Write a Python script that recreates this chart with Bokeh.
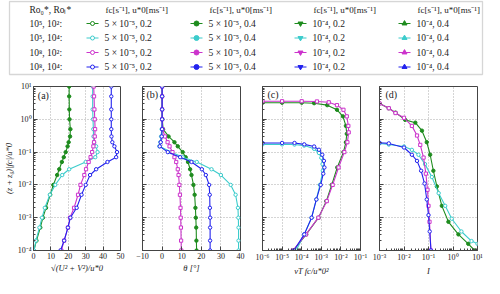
from bokeh.plotting import figure
from bokeh.layouts import column, row
from bokeh.models import (Range1d, FixedTicker, CustomJSTickFormatter, Label, BoxAnnotation)
from bokeh.embed import file_html
from bokeh.resources import INLINE
from bokeh.core.properties import value

SERIF = "Liberation Serif"

# ---------------- data ----------------
series_names = ["green", "cyan", "magenta", "blue"]
series_colors = ["#1e8c1e", "#3ccccc", "#cc33cc", "#2222ee"]

row_labels = ["10\u2075, 10\u00b2:", "10\u2075, 10\u2074:", "10\u2078, 10\u00b2:", "10\u2078, 10\u2074:"]
col_header = "fc[s\u207b\u00b9], u*0[ms\u207b\u00b9]"
col_labels = ["5 \u00d7 10\u207b\u2075, 0.2", "5 \u00d7 10\u207b\u2075, 0.4", "10\u207b\u2074, 0.2", "10\u207b\u2074, 0.4"]
row_header = "Ro\u2080*, Ro\u2097*"

# heights (z+z0)|fc|/u*0 shared by panels (a) and (b)
z_ab = [10, 5, 2, 1, 0.5, 0.3, 0.2, 0.15, 0.1, 0.07, 0.05, 0.03, 0.02, 0.01,
        0.005, 0.002, 0.001, 0.0005, 0.0002, 0.0001]

# (a) sqrt(U^2+V^2)/u*0
speed_green = [20.5, 20.5, 20.6, 20.7, 21.2, 21.0, 20.2, 19.6, 18.5, 17.4, 16.3, 14.8, 13.6, 11.4,
               9.6, 7.2, 5.4, 3.9, 1.7, 0.2]
speed_cyan = [34.0, 34.0, 34.0, 34.2, 34.4, 34.5, 34.8, 36.0, 36.8, 35.5, 30.0, 20.5, 16.5, 12.5,
              9.4, 6.5, 4.9, 3.4, 1.4, 0.3]
speed_magenta = [34.6, 34.8, 35.0, 35.2, 35.4, 35.2, 34.8, 34.4, 33.7, 32.8, 31.7, 30.2, 29.2, 27.0,
                 25.6, 23.3, 21.0, 19.8, 17.6, 16.0]
speed_blue = [44.7, 44.7, 44.7, 44.7, 44.7, 44.8, 45.3, 46.5, 48.0, 47.5, 42.5, 36.0, 32.5, 30.0,
              27.6, 24.8, 21.2, 19.8, 17.6, 15.5]

# (b) theta [deg]
theta_green = [0.0, 0.0, 0.0, 0.1, 0.5, 3.3, 6.3, 8.0, 10.5, 12.0, 13.2, 14.3, 15.0, 16.0,
               16.6, 17.0, 17.2, 17.4, 17.5, 17.6]
theta_cyan = [0.0, 0.0, 0.0, 0.0, -0.2, -0.5, -0.9, -1.4, 4.6, 10.5, 17.7, 25.2, 30.0, 35.0,
              37.5, 38.7, 38.9, 39.0, 39.0, 39.0]
theta_magenta = [0.0, 0.0, 0.0, 0.0, 0.2, 1.5, 2.8, 3.8, 5.3, 6.3, 7.2, 8.0, 8.4, 8.8,
                 9.1, 9.4, 9.5, 9.6, 9.7, 9.8]
theta_blue = [0.0, 0.0, 0.0, 0.0, 0.0, -0.2, -0.7, -1.2, 2.9, 9.2, 15.0, 20.3, 22.3, 24.0,
              24.3, 24.4, 24.5, 24.5, 24.5, 24.5]

# (c) nu_T fc / u*0^2
nu_green = [1e-6, 1e-5, 1e-4, 4.3e-4, 2e-3, 6.3e-3, 0.0127, 0.018, 0.02, 0.018, 0.0135, 0.0065,
            0.0034, 0.0018, 7.2e-4, 1.7e-4, 3.8e-5]
z_nu_green = [3.2, 3.2, 3.2, 3.1, 2.7, 1.95, 1.23, 0.63, 0.36, 0.2, 0.1, 0.034, 0.01, 0.0032,
              0.001, 0.00031, 0.0001]
nu_cyan = [1e-6, 1e-5, 4.3e-5, 1.35e-4, 4.3e-4, 7.6e-4, 1e-3, 1.16e-3, 1.2e-3, 8.5e-4, 5.6e-4,
           3.2e-4, 1.35e-4, 5.2e-5]
z_nu_cyan = [0.172, 0.172, 0.17, 0.158, 0.126, 0.094, 0.067, 0.043, 0.027, 0.01, 0.0036, 0.001,
             0.00031, 0.0001]
nu_magenta = [1e-6, 1e-5, 1e-4, 6e-4, 2.4e-3, 6.3e-3, 0.0135, 0.02, 0.024, 0.025, 0.0214, 0.015,
              0.0076, 0.0038, 0.0019, 7.1e-4, 1.66e-4, 3.5e-5]
z_nu_magenta = [3.55, 3.55, 3.55, 3.5, 3.3, 2.7, 1.95, 1.23, 0.63, 0.4, 0.2, 0.1, 0.034, 0.01,
                0.0032, 0.001, 0.00031, 0.0001]
nu_blue = [1e-6, 1e-5, 4.3e-5, 1.35e-4, 4.3e-4, 7.6e-4, 1.12e-3, 1.36e-3, 1.44e-3, 1.26e-3,
           9.3e-4, 5.6e-4, 3.2e-4, 1.35e-4, 4.0e-5]
z_nu_blue = [0.19, 0.19, 0.19, 0.172, 0.148, 0.118, 0.083, 0.054, 0.034, 0.022, 0.01, 0.0036,
             0.001, 0.00031, 0.0001]

# (d) I
i_green = [1e-3, 2.4e-3, 4.5e-3, 0.0112, 0.029, 0.054, 0.085, 0.117, 0.158, 0.22, 0.35, 0.65,
           1.66, 4.2, 7.7]
z_i_green = [3.04, 2.17, 1.6, 0.96, 0.79, 0.45, 0.2, 0.083, 0.027, 0.009, 0.0023, 7.5e-4,
             3.1e-4, 1.6e-4, 1e-4]
i_cyan = [1e-3, 2.4e-3, 0.01, 0.021, 0.039, 0.072, 0.137, 0.26, 0.48, 0.89, 2.2, 5.7, 10.0]
z_i_cyan = [0.184, 0.17, 0.148, 0.117, 0.083, 0.043, 0.0174, 0.0056, 0.0023, 9.3e-4, 3.8e-4,
            1.94e-4, 1.6e-4]
i_magenta = [1e-3, 2.4e-3, 4.5e-3, 0.01, 0.021, 0.034, 0.046, 0.063, 0.078, 0.091, 0.1, 0.11,
             0.126]
z_i_magenta = [3.04, 2.17, 1.55, 1.11, 0.63, 0.32, 0.166, 0.068, 0.022, 0.0071, 0.0023, 7.5e-4,
               1e-4]
i_blue = [1e-3, 2.4e-3, 0.01, 0.021, 0.034, 0.05, 0.069, 0.085, 0.1, 0.112, 0.126]
z_i_blue = [0.193, 0.184, 0.138, 0.083, 0.054, 0.027, 0.011, 0.0036, 0.0012, 3.8e-4, 1e-4]

# ---------------- styling helpers ----------------
AX = "#444444"
FS_TICK = "8px"
FS_LAB = "8.5px"

sup_js = """
const sup = {"-":"\u207b","0":"\u2070","1":"\u00b9","2":"\u00b2","3":"\u00b3","4":"\u2074",
             "5":"\u2075","6":"\u2076","7":"\u2077","8":"\u2078","9":"\u2079"};
const e = Math.round(Math.log10(tick));
return "10" + String(e).split("").map(c => sup[c]).join("");
"""
minus_js = 'return tick < 0 ? "\\u2212" + Math.abs(tick) : String(tick);'
blank_js = 'return "";'


def log_ticker(lo, hi):
    majors = [10.0 ** e for e in range(lo, hi + 1)]
    minors = [k * 10.0 ** e for e in range(lo, hi) for k in range(2, 10)]
    return FixedTicker(ticks=majors, minor_ticks=minors)


def style_axis(ax, show_labels, is_log):
    ax.axis_line_color = AX
    ax.axis_line_width = 1
    ax.major_tick_in = 4
    ax.major_tick_out = 0
    ax.major_tick_line_color = AX
    if is_log:
        ax.minor_tick_in = 2
        ax.minor_tick_out = 0
        ax.minor_tick_line_color = AX
    else:
        ax.minor_tick_line_color = None
    ax.major_label_text_font = SERIF
    ax.major_label_text_font_size = FS_TICK
    ax.major_label_text_color = "#222222"
    ax.major_label_standoff = 2
    ax.axis_label_text_font = SERIF
    ax.axis_label_text_font_size = FS_LAB
    ax.axis_label_text_font_style = "italic"
    ax.axis_label_text_color = "#222222"
    ax.axis_label_standoff = 1
    if not show_labels:
        ax.formatter = CustomJSTickFormatter(code=blank_js)
        ax.major_label_standoff = 0


def make_panel(xtype, xr, xticker, xformatter, width, bl, br, show_ylab, xlabel, tag, tag_x, tag_y):
    p = figure(width=width, height=202, x_axis_type=xtype, y_axis_type="log",
               x_range=xr, y_range=Range1d(1e-4, 10),
               output_backend="svg", toolbar_location=None,
               min_border_left=bl, min_border_right=br, min_border_top=10, min_border_bottom=23)
    p.outline_line_color = AX
    p.outline_line_width = 1
    p.background_fill_color = "white"
    p.border_fill_color = "white"
    xa = p.xaxis[0]
    xa.ticker = xticker
    xa.formatter = xformatter
    style_axis(xa, True, xtype == "log")
    xa.axis_label = xlabel
    ya = p.yaxis[0]
    ya.ticker = log_ticker(-4, 1)
    ya.formatter = CustomJSTickFormatter(code=sup_js)
    style_axis(ya, show_ylab, True)
    if show_ylab:
        ya.axis_label = "(z + z\u2080)|fc|/u*0"
    for g in (p.xgrid[0], p.ygrid[0]):
        g.grid_line_color = "#aaaaaa"
        g.grid_line_dash = "1 2"
        g.grid_line_width = 1
    p.xgrid[0].ticker = xticker
    p.ygrid[0].ticker = log_ticker(-4, 1)
    p.add_layout(Label(x=tag_x, y=tag_y, text=tag, text_font=SERIF, text_font_size="10px",
                       text_color="#222222", text_baseline="bottom"))
    return p


def draw(p, xs, ys, color, marker):
    p.line(xs, ys, line_color=color, line_width=1.1)
    if marker == "filled":
        p.scatter(xs, ys, marker="circle", size=3.4, line_color=color, fill_color=color)
    elif marker == "square":
        p.scatter(xs, ys, marker="square", size=3.2, line_color=color, fill_color="white", line_width=1)
    else:
        p.scatter(xs, ys, marker="circle", size=3.4, line_color=color, fill_color="white", line_width=1)


marker_kinds = ["filled", "open", "square", "open"]

# ---------------- panels ----------------
lin_a = FixedTicker(ticks=[0, 10, 20, 30, 40, 50])
pa = make_panel("linear", Range1d(0, 50), lin_a, CustomJSTickFormatter(code=minus_js),
                131, 25, 11, True, "\u221a(U\u00b2 + V\u00b2)/u*0", "(a)", 2.5, 3.6)
lin_b = FixedTicker(ticks=[-10, 0, 10, 20, 30, 40])
pb = make_panel("linear", Range1d(-10, 40), lin_b, CustomJSTickFormatter(code=minus_js),
                120, 11, 11, False, "\u03b8 [\u00b0]", "(b)", -8.0, 4.0)
pc = make_panel("log", Range1d(1e-6, 1e-1), log_ticker(-6, -1), CustomJSTickFormatter(code=sup_js),
                120, 11, 11, False, "\u03bdT fc/u*0\u00b2", "(c)", 1.8e-6, 3.9)
pd = make_panel("log", Range1d(1e-3, 10), log_ticker(-3, 1), CustomJSTickFormatter(code=sup_js),
                113, 8, 7, False, "I", "(d)", 1.75e-3, 3.9)

speeds = [speed_green, speed_cyan, speed_magenta, speed_blue]
thetas = [theta_green, theta_cyan, theta_magenta, theta_blue]
nus = [nu_green, nu_cyan, nu_magenta, nu_blue]
z_nus = [z_nu_green, z_nu_cyan, z_nu_magenta, z_nu_blue]
ints = [i_green, i_cyan, i_magenta, i_blue]
z_ints = [z_i_green, z_i_cyan, z_i_magenta, z_i_blue]

for k in range(4):
    col = series_colors[k]
    mk = marker_kinds[k]
    draw(pa, speeds[k], z_ab, col, mk)
    draw(pb, thetas[k], z_ab, col, mk)
    draw(pc, nus[k], z_nus[k], col, mk)
    draw(pd, ints[k], z_ints[k], col, mk)

# ---------------- legend ----------------
leg = figure(width=484, height=76, x_range=Range1d(8, 492), y_range=Range1d(84, 8),
             output_backend="svg", toolbar_location=None,
             min_border_left=0, min_border_right=0, min_border_top=0, min_border_bottom=0,
             x_axis_location=None, y_axis_location=None)
leg.grid.visible = False
leg.outline_line_color = None
leg.add_layout(BoxAnnotation(left=17, right=490, top=9, bottom=82, fill_color=None,
                             line_color="#777777", line_width=1.3))

col_x = [100, 204, 308, 412]
row_y = [31, 45.5, 60, 74.5]
header_y = 17.5
leg_markers = ["circle", "circle", "inverted_triangle", "triangle"]
leg_fill = [False, True, True, True]
leg_sizes = [4, 5, 5, 5]

tf = value(SERIF)
leg.text(x=[37], y=[header_y], text=[row_header], text_font=tf, text_font_size="9.5px",
         text_baseline="middle", text_color="#222222")
leg.text(x=[cx + 13 for cx in col_x], y=[header_y] * 4, text=[col_header] * 4, text_font=tf,
         text_font_size="9px", text_baseline="middle", text_color="#222222")
leg.text(x=[37] * 4, y=row_y, text=row_labels, text_font=tf, text_font_size="9.5px",
         text_baseline="middle", text_color="#222222")
for r in range(4):
    colr = series_colors[r]
    for c in range(4):
        cx = col_x[c]
        ry = row_y[r]
        leg.segment(x0=[cx - 6], y0=[ry], x1=[cx + 6], y1=[ry], line_color=colr, line_width=1.1)
        leg.scatter(x=[cx], y=[ry], marker=leg_markers[c], size=leg_sizes[c], line_color=colr,
                    fill_color=colr if leg_fill[c] else "white")
        leg.text(x=[cx + 12], y=[ry], text=[col_labels[c]], text_font=tf, text_font_size="9.5px",
                 text_baseline="middle", text_color="#222222")

layout = column(leg, row(pa, pb, pc, pd))
open("out.html", "w").write(file_html(layout, INLINE))
